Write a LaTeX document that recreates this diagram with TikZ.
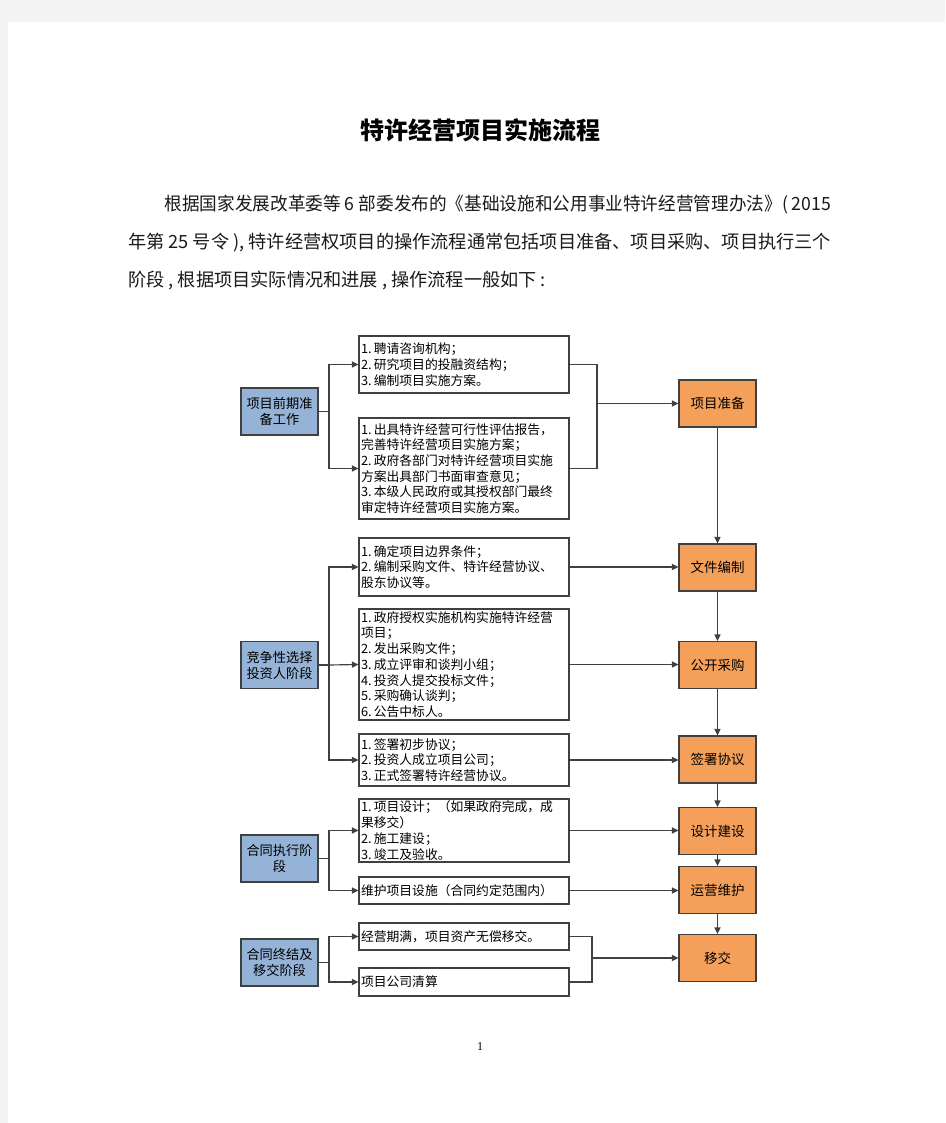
\documentclass[tikz,border=0pt]{standalone}
\usepackage{graphicx}
\usepackage{fontspec}
\setmainfont{Noto Sans CJK SC}
\newfontfamily\cjk{Noto Sans CJK SC}
\newfontfamily\pagenumfont{Liberation Serif}
\usetikzlibrary{arrows.meta}
\definecolor{pagegray}{HTML}{F3F3F3}
\definecolor{linegray}{HTML}{404040}
\definecolor{phaseblue}{HTML}{95B3D7}
\definecolor{resultorange}{HTML}{F5A05A}
\definecolor{bodytext}{HTML}{1A1A1A}
\newcommand\itemno[1]{\makebox[1em][l]{#1}}
\begin{document}
\begin{tikzpicture}[x=1pt,y=-1pt]
\tikzset{
  base/.style={draw=linegray, line width=1.1pt, inner sep=0pt},
  phase/.style={base, fill=phaseblue, minimum width=77pt, minimum height=47pt, align=center,
    font=\cjk\fontsize{13.2}{16}\selectfont},
  task/.style={base, fill=white, text width=206pt, inner xsep=2pt, align=left,
    font=\cjk\fontsize{12.8}{15.7}\selectfont},
  result/.style={base, fill=resultorange, minimum width=77pt, minimum height=47pt,
    font=\cjk\fontsize{13.5}{16}\selectfont},
  link/.style={draw=linegray, line width=1.15pt},
  arr/.style={link, -{Triangle[length=6.5pt,width=6pt]}},
  para/.style={anchor=west, inner sep=0pt, text=bodytext, font=\cjk\fontsize{18.2}{22}\selectfont},
}
\useasboundingbox (0,0) rectangle (945,1123);
\fill[pagegray] (0,0) rectangle (945,1123);
\fill[white] (8,22) rectangle (945,1123);

% title and paragraph
\node[inner sep=0pt, font=\cjk\bfseries\fontsize{24}{28}\selectfont] (title) at (480,130) {特许经营项目实施流程};
\node[para] (p1) at (164.5,205) {\scalebox{0.969}[1]{根据国家发展改革委等 6 部委发布的《基础设施和公用事业特许经营管理办法》( 2015}};
\node[para] (p2) at (128,243) {年第 25 号令 ), 特许经营权项目的操作流程通常包括项目准备、项目采购、项目执行三个};
\node[para] (p3) at (128,281) {阶段 , 根据项目实际情况和进展 , 操作流程一般如下 :};

% phase boxes (left)
\node[phase] (L1) at (279.5,411.5) {项目前期准\\备工作};
\node[phase] (L2) at (279.5,665) {竞争性选择\\投资人阶段};
\node[phase] (L3) at (279.5,858.5) {合同执行阶\\段};
\node[phase] (L4) at (279.5,962.5) {合同终结及\\移交阶段};

% task boxes (middle)
\node[task, minimum height=57pt] (A) at (464,364.5) {\itemno{1.}聘请咨询机构；\\\itemno{2.}研究项目的投融资结构；\\\itemno{3.}编制项目实施方案。};
\node[task, minimum height=101pt] (B) at (464,468.5) {\itemno{1.}出具特许经营可行性评估报告，\\完善特许经营项目实施方案；\\\itemno{2.}政府各部门对特许经营项目实施\\方案出具部门书面审查意见；\\\itemno{3.}本级人民政府或其授权部门最终\\审定特许经营项目实施方案。};
\node[task, minimum height=58pt] (C) at (464,567) {\itemno{1.}确定项目边界条件；\\\itemno{2.}编制采购文件、特许经营协议、\\股东协议等。};
\node[task, minimum height=111pt] (D) at (464,664.5) {\itemno{1.}政府授权实施机构实施特许经营\\项目；\\\itemno{2.}发出采购文件；\\\itemno{3.}成立评审和谈判小组；\\\itemno{4.}投资人提交投标文件；\\\itemno{5.}采购确认谈判；\\\itemno{6.}公告中标人。};
\node[task, minimum height=52pt] (E) at (464,760) {\itemno{1.}签署初步协议；\\\itemno{2.}投资人成立项目公司；\\\itemno{3.}正式签署特许经营协议。};
\node[task, minimum height=63pt] (F) at (464,830.5) {\itemno{1.}项目设计；（如果政府完成，成\\果移交）\\\itemno{2.}施工建设；\\\itemno{3.}竣工及验收。};
\node[task, minimum height=27pt] (G) at (464,890.5) {维护项目设施（合同约定范围内）};
\node[task, minimum height=27pt] (H) at (464,936.5) {经营期满，项目资产无偿移交。};
\node[task, minimum height=28pt] (I) at (464,982) {项目公司清算};

% result boxes (right)
\node[result] (P1) at (717.5,403.5) {项目准备};
\node[result] (P2) at (717.5,567.5) {文件编制};
\node[result] (P3) at (717.5,665) {公开采购};
\node[result] (P4) at (717.5,759.5) {签署协议};
\node[result] (P5) at (717.5,831) {设计建设};
\node[result] (P6) at (717.5,890) {运营维护};
\node[result] (P7) at (717.5,958) {移交};

% junction points
\coordinate (j1) at (329,411.5);
\coordinate (j2) at (329,665);
\coordinate (j3) at (329,858.5);
\coordinate (j4) at (329,962.5);
\coordinate (m1) at (597,403.5);
\coordinate (m2) at (592,958);

% left branches
\draw[link] (L1.east) -- (j1);
\draw[arr] (j1) |- (A.west);
\draw[arr] (j1) |- (B.west);
\draw[link] (L2.east) -- (j2);
\draw[arr] (j2) |- (C.west);
\draw[arr] (j2) -- (D.west);
\draw[arr] (j2) |- (E.west);
\draw[link] (L3.east) -- (j3);
\draw[arr] (j3) |- (F.west);
\draw[arr] (j3) |- (G.west);
\draw[link] (L4.east) -- (j4);
\draw[arr] (j4) |- (H.west);
\draw[arr] (j4) |- (I.west);

% right merges
\draw[link] (A.east) -| (m1);
\draw[link] (B.east) -| (m1);
\draw[arr] (m1) -- (P1.west);
\draw[arr] (C.east) -- (C.east -| P2.west);
\draw[arr] (D.east) -- (D.east -| P3.west);
\draw[arr] (E.east) -- (E.east -| P4.west);
\draw[arr] (F.east) -- (F.east -| P5.west);
\draw[arr] (G.east) -- (G.east -| P6.west);
\draw[link] (H.east) -| (m2);
\draw[link] (I.east) -| (m2);
\draw[arr] (m2) -- (P7.west);

% vertical chain
\draw[arr] (P1.south) -- (P2.north);
\draw[arr] (P2.south) -- (P3.north);
\draw[arr] (P3.south) -- (P4.north);
\draw[arr] (P4.south) -- (P5.north);
\draw[arr] (P5.south) -- (P6.north);
\draw[arr] (P6.south) -- (P7.north);

% page number
\node[inner sep=0pt, font=\pagenumfont\fontsize{12}{14}\selectfont] (pg) at (480,1047) {1};
\end{tikzpicture}
\end{document}
